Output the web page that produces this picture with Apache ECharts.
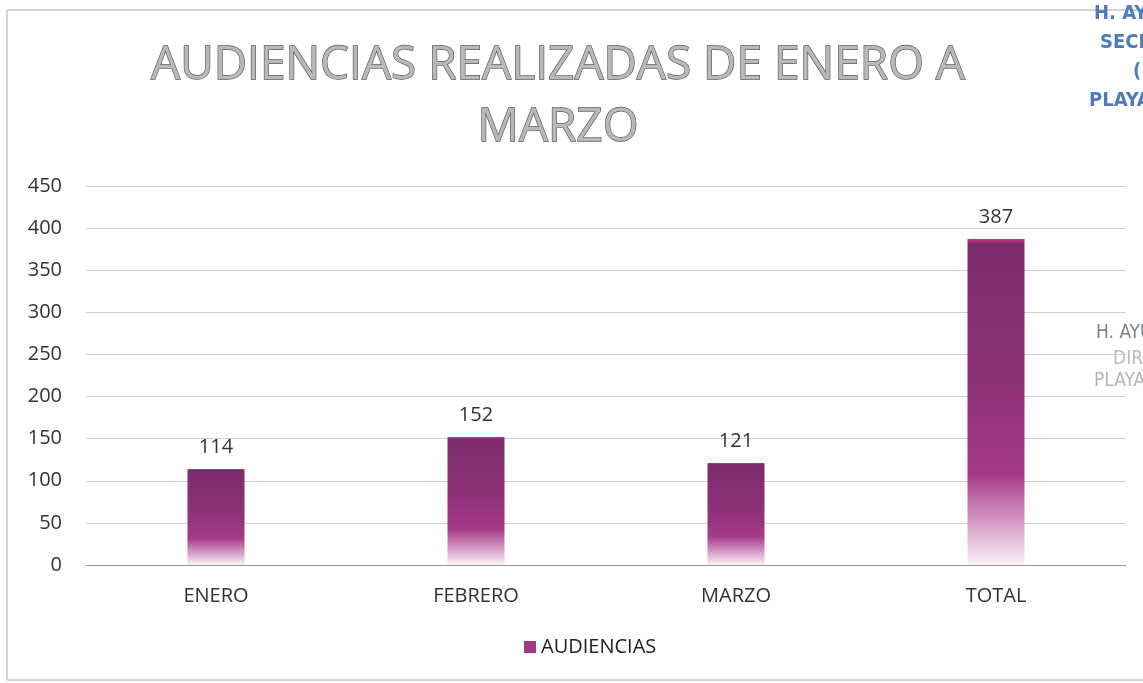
<!DOCTYPE html>
<html>
<head>
<meta charset="utf-8">
<script src="https://cdn.jsdelivr.net/npm/echarts@6/dist/echarts.min.js"></script>
<style>
  html, body { margin: 0; padding: 0; background: #fff; }
  #main { width: 1143px; height: 683px; }
</style>
</head>
<body>
<div id="main"></div>
<script>
// datos
const meses = ['ENERO', 'FEBRERO', 'MARZO', 'TOTAL'];
const audiencias = [114, 152, 121, 387];
const serieNombre = 'AUDIENCIAS';

const myChart = echarts.init(document.getElementById('main'));

const barColor = new echarts.graphic.LinearGradient(0, 0, 0, 1, [
  { offset: 0, color: '#d8337e' },
  { offset: 0.015, color: '#7c2c6e' },
  { offset: 0.45, color: '#8e3179' },
  { offset: 0.72, color: '#a53a88' },
  { offset: 0.86, color: '#d394c2' },
  { offset: 1, color: '#fbf2f8' }
]);

const stampBlue = { fontFamily: 'Liberation Sans Narrow, DejaVu Sans Condensed', fontWeight: 'bold', fontSize: 20, fill: '#4d7bbb' };
const stampGray = { fontFamily: 'Liberation Sans Narrow, DejaVu Sans Condensed', fontSize: 19, fill: '#9a9ea6' };

const option = {
  backgroundColor: '#fff',
  title: {
    text: 'AUDIENCIAS REALIZADAS DE ENERO A\nMARZO',
    left: 553,
    top: 30,
    textAlign: 'center',
    textStyle: {
      fontFamily: 'Open Sans',
      fontSize: 46,
      fontWeight: 'normal',
      color: '#b8b8b8',
      textBorderColor: '#5a5a5a',
      textBorderWidth: 1.3,
      lineHeight: 62
    }
  },
  legend: {
    top: 632,
    left: 519,
    itemWidth: 12,
    itemHeight: 12,
    itemGap: 6,
    icon: 'rect',
    textStyle: { fontFamily: 'Open Sans', fontSize: 20, color: '#222' },
    data: [{ name: serieNombre, itemStyle: { color: '#a0397f' } }]
  },
  grid: { left: 86, right: 17, top: 186, bottom: 118, containLabel: false },
  xAxis: {
    type: 'category',
    data: meses,
    axisLine: { lineStyle: { color: '#999' } },
    axisTick: { show: false },
    axisLabel: { fontFamily: 'Open Sans', fontSize: 20, color: '#333', margin: 21 }
  },
  yAxis: {
    type: 'value',
    min: 0,
    max: 450,
    interval: 50,
    axisLine: { show: false },
    axisTick: { show: false },
    axisLabel: { fontFamily: 'Open Sans', fontSize: 20, color: '#333', margin: 24 },
    splitLine: { lineStyle: { color: '#cfcfcf', width: 1 } }
  },
  series: [
    {
      name: serieNombre,
      type: 'bar',
      data: audiencias,
      barWidth: 57,
      itemStyle: { color: barColor },
      label: {
        show: true,
        position: 'top',
        distance: 12,
        fontFamily: 'Open Sans',
        fontSize: 20,
        color: '#333'
      }
    }
  ],
  graphic: [
    // marco del grafico
    {
      type: 'rect',
      shape: { x: 7, y: 10, width: 1150, height: 670 },
      style: { fill: 'none', stroke: '#aaa', lineWidth: 1 },
      silent: true
    },
    // sellos escaneados en el borde derecho
    { type: 'text', x: 1094, y: 4, style: Object.assign({ text: 'H. AYU' }, stampBlue) },
    { type: 'text', x: 1100, y: 33, style: Object.assign({ text: 'SECRE' }, stampBlue) },
    { type: 'text', x: 1133, y: 62, style: Object.assign({ text: '(' }, stampBlue) },
    { type: 'text', x: 1089, y: 91, style: Object.assign({ text: 'PLAYA I' }, stampBlue) },
    { type: 'text', x: 1096, y: 324, style: Object.assign({ text: 'H. AYU' }, stampGray, { fill: '#7e828a' }) },
    { type: 'text', x: 1113, y: 350, style: Object.assign({ text: 'DIRE' }, stampGray, { fill: '#b8bcc4' }) },
    { type: 'text', x: 1094, y: 372, style: Object.assign({ text: 'PLAYA' }, stampGray, { fill: '#b0b4bc' }) }
  ]
};

myChart.setOption(option);
</script>
</body>
</html>
